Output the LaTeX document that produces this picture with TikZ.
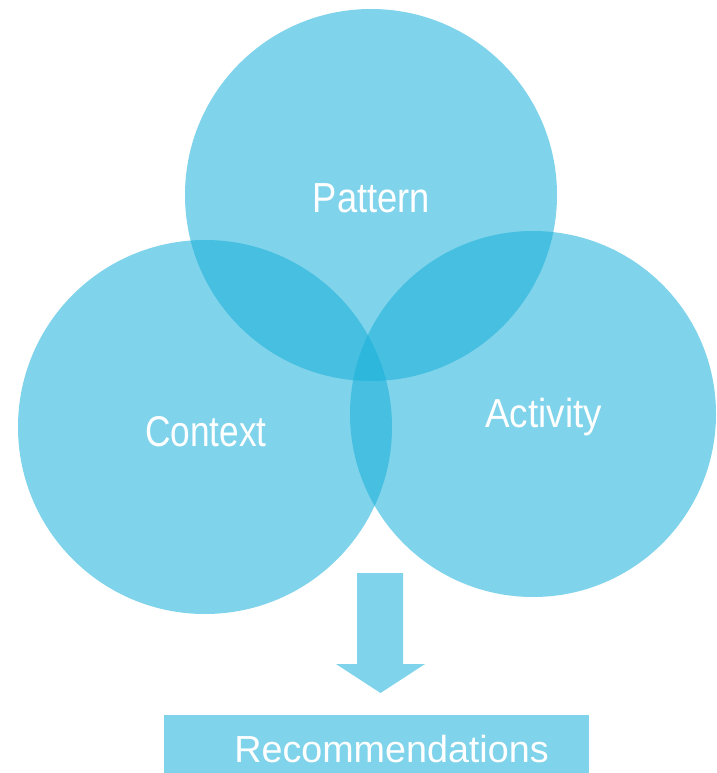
\documentclass[tikz,border=0pt]{standalone}
\usepackage{fontspec}
\usepackage{graphicx}
\setmainfont{Liberation Sans}
\definecolor{vbase}{RGB}{26,176,218}
\definecolor{vlight}{RGB}{127,211,234}
\tikzset{
  venn/.style={circle, fill=vbase, fill opacity=0.56, text opacity=1, inner sep=0pt},
  lbl/.style={text=white, inner sep=0pt, anchor=base},
  blockarrow/.style={fill=vlight, draw=none},
  outbox/.style={fill=vlight, draw=none}
}
\begin{document}
\begin{tikzpicture}[x=1pt,y=-1pt]
\useasboundingbox (0,0) rectangle (716,773);
% circles
\fill[vbase, fill opacity=0.56] (371,195) circle[radius=186];
\fill[vbase, fill opacity=0.56] (205,427) circle[radius=187];
\fill[vbase, fill opacity=0.56] (533,414) circle[radius=183];
\coordinate (pc) at (371,195);
\coordinate (cc) at (205,427);
\coordinate (ac) at (533,414);
% labels
\node[lbl, font=\fontsize{42}{44}\selectfont] (pattern) at (371.5,212) {\scalebox{0.865}[1]{Pattern}};
\node[lbl, font=\fontsize{43}{45}\selectfont] (context) at (206,446) {\scalebox{0.82}[1]{Context}};
\node[lbl, font=\fontsize{40.5}{42}\selectfont] (activity) at (543.5,427) {\scalebox{0.91}[1]{Activity}};
% arrow
\coordinate (as1) at (357,573);
\coordinate (as2) at (403,573);
\coordinate (tip) at (380.5,693);
\fill[blockarrow] (as1) -- (as2) -- (403,664) -- (425,664) -- (tip) -- (336,664) -- (357,664) -- cycle;
% output box
\fill[outbox] (164,715) rectangle (589,773);
\node[lbl, font=\fontsize{37.7}{40}\selectfont] (rec) at (391.5,762) {\scalebox{1.0}[1]{Recommendations}};
\end{tikzpicture}
\end{document}
